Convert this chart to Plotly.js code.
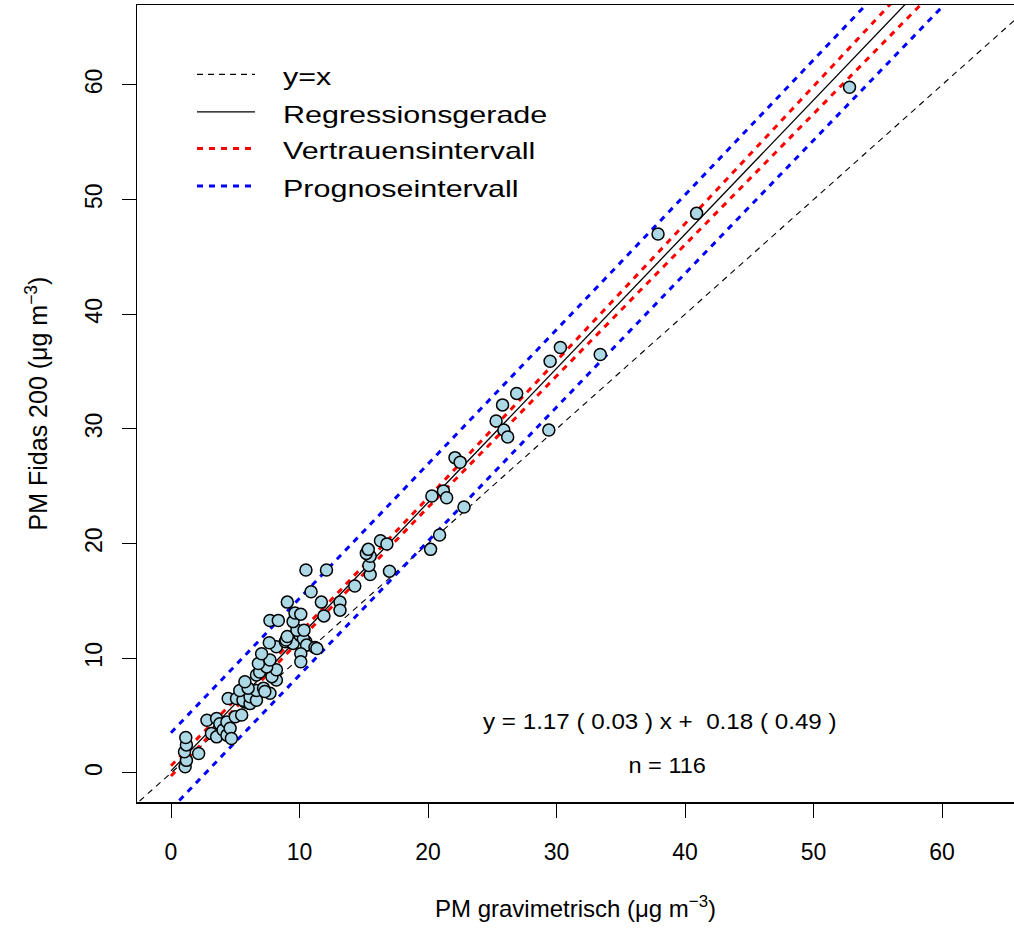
<!DOCTYPE html>
<html>
<head>
<meta charset="utf-8">
<script src="https://cdn.plot.ly/plotly-3.0.1.min.js"></script>
<style>
  html, body { margin: 0; padding: 0; background: #fff; }
  #chart { width: 1014px; height: 928px; }
</style>
</head>
<body>
<div id="chart"></div>
<script>
// ---- data ----
const gravX = [1.1, 1.2, 1.05, 1.2, 1.15, 2.15, 2.8, 3.15, 3.55, 3.55, 3.8, 4.05, 4.35, 4.35, 4.6, 4.7, 5.0, 5.5,
  4.45, 5.5, 5.75, 5.1, 5.6, 6.15, 6.15, 6.65, 5.35, 6.65, 6.0, 7.2, 7.7, 7.3, 5.75, 8.2, 7.85, 6.65, 6.9, 8.2,
  7.45, 6.8, 7.7, 7.05, 8.2, 7.65, 8.9, 9.5, 8.95, 9.05, 10.05, 10.5, 10.3, 10.55, 11.2, 11.35, 10.1, 10.1, 9.8,
  10.35, 9.5, 7.7, 8.35, 9.65, 10.1, 9.05, 11.7, 13.15, 13.15, 10.9, 10.5, 12.1, 14.3, 15.5, 15.4, 15.5, 15.2,
  15.35, 16.3, 16.8, 17.0, 20.2, 20.9, 20.3, 21.2, 21.45, 22.8, 22.1, 22.5, 25.3, 25.9, 26.2, 25.8, 26.9, 29.4,
  29.5, 30.3, 33.4, 37.9, 40.9, 52.8, 11.9];
const fidasY = [0.55, 1.1, 1.85, 2.45, 3.1, 1.7, 4.6, 3.45, 3.15, 4.75, 4.3, 3.75, 4.45, 3.3, 3.9, 3.0, 4.9, 5.05,
  6.5, 6.8, 6.2, 6.5, 6.35, 6.05, 6.65, 6.35, 7.2, 7.2, 7.4, 7.4, 6.95, 7.1, 7.95, 8.1, 8.4, 8.55, 8.8, 9.0,
  9.25, 9.55, 9.85, 10.4, 11.0, 11.35, 11.45, 11.3, 11.6, 11.9, 12.0, 11.45, 11.7, 11.15, 10.95, 10.85, 10.4, 9.7, 12.45,
  12.45, 13.2, 13.3, 13.3, 13.95, 13.85, 14.9, 14.9, 14.9, 14.2, 15.8, 17.7, 17.7, 16.3, 17.3, 18.1, 18.9, 19.15,
  19.5, 20.25, 19.97, 17.6, 19.5, 20.75, 24.15, 24.6, 24.0, 23.2, 27.5, 27.1, 30.7, 29.9, 29.3, 32.1, 33.1, 29.9,
  35.9, 37.1, 36.5, 47.0, 48.8, 59.8, 13.7];

const identX = [-5, 70];
const identY = [-5, 70];

const fitX  = [0, 10, 20, 30, 40, 50, 60];
const regY  = [0.18, 11.88, 23.58, 35.28, 46.98, 58.68, 70.38];
const ciHi  = [0.63, 12.19, 24.0, 35.92, 47.89, 59.88, 71.87];
const ciLo  = [-0.27, 11.57, 23.16, 34.64, 46.07, 57.48, 68.89];
const piHi  = [3.51, 15.2, 26.93, 38.66, 50.41, 62.18, 73.96];
const piLo  = [-3.15, 8.56, 20.23, 31.9, 43.55, 55.18, 66.8];

const tickVals = [0, 10, 20, 30, 40, 50, 60];
const tickText = ["0", "10", "20", "30", "40", "50", "60"];

const legendLabels = ["y=x", "Regressionsgerade", "Vertrauensintervall", "Prognoseintervall"];
const eqText = "y = 1.17 ( 0.03 ) x +\u00a0\u00a00.18 ( 0.49 )";
const nText = "n = 116";

// ---- styles ----
const FONT = "Liberation Sans, Arial, Helvetica, sans-serif";
const styles = {
  ident: {color: "black", width: 1.1, dash: "6px,5px"},
  reg:   {color: "black", width: 1.3},
  ci:    {color: "#ff0000", width: 3, dash: "6px,6px"},
  pi:    {color: "#0000ff", width: 3, dash: "6px,6px"}
};

const traces = [
  {x: identX, y: identY, mode: "lines", line: styles.ident, hoverinfo: "skip", showlegend: false},
  {x: fitX, y: piHi, mode: "lines", line: styles.pi, showlegend: false},
  {x: fitX, y: piLo, mode: "lines", line: styles.pi, showlegend: false},
  {x: fitX, y: ciHi, mode: "lines", line: styles.ci, showlegend: false},
  {x: fitX, y: ciLo, mode: "lines", line: styles.ci, showlegend: false},
  {x: fitX, y: regY, mode: "lines", line: styles.reg, showlegend: false},
  {x: gravX, y: fidasY, mode: "markers", showlegend: false, cliponaxis: true,
   marker: {size: 12, color: "#add8e6", line: {color: "black", width: 1.5}}}
];

// manual legend (paper coordinates)
const legLineX0 = 0.0684, legLineX1 = 0.1345, legTextX = 0.1642;
const legRowsY = [0.913, 0.866, 0.820, 0.773];
const legStyles = [styles.ident, styles.reg, styles.ci, styles.pi];
const shapes = [];
const annotations = [];
const annScale = [];
legendLabels.forEach((lab, i) => {
  const st = legStyles[i];
  shapes.push({type: "line", xref: "paper", yref: "paper",
    x0: legLineX0, x1: legLineX1, y0: legRowsY[i], y1: legRowsY[i],
    line: {color: st.color, width: st.width, dash: st.dash || "solid"}});
  annotations.push({xref: "paper", yref: "paper", x: legTextX, y: legRowsY[i] - 0.003,
    xanchor: "left", yanchor: "middle", showarrow: false, text: lab,
    font: {family: FONT, size: 24, color: "black"}});
  annScale.push({k: 1.27, origin: "left center"});
});
annotations.push({xref: "paper", yref: "paper", x: 0.5963, y: 0.1016, xanchor: "center", yanchor: "middle",
  showarrow: false, text: eqText, font: {family: FONT, size: 22, color: "black"}});
annScale.push({k: 1.1, origin: "center"});
annotations.push({xref: "paper", yref: "paper", x: 0.6043, y: 0.0452, xanchor: "center", yanchor: "middle",
  showarrow: false, text: nText, font: {family: FONT, size: 22, color: "black"}});
annScale.push({k: 1.07, origin: "center"});

const layout = {
  width: 1014, height: 928,
  margin: {l: 137, r: 0, t: 5, b: 126, pad: 0},
  paper_bgcolor: "white", plot_bgcolor: "white",
  font: {family: FONT, size: 22, color: "black"},
  showlegend: false,
  xaxis: {
    range: [-2.646, 65.6], autorange: false,
    tickmode: "array", tickvals: tickVals, ticktext: tickText,
    ticks: "outside", ticklen: 14, tickwidth: 1, tickcolor: "black",
    ticklabelstandoff: 15,
    showline: true, linecolor: "black", linewidth: 1.5, mirror: true,
    showgrid: false, zeroline: false,
    tickfont: {family: FONT, size: 23, color: "black"},
    title: {text: "PM gravimetrisch (μg m<sup>−3</sup>)", font: {family: FONT, size: 24, color: "black"}, standoff: 36}
  },
  yaxis: {
    range: [-2.53, 66.97], autorange: false,
    tickmode: "array", tickvals: tickVals, ticktext: tickText,
    ticks: "outside", ticklen: 14, tickwidth: 1, tickcolor: "black",
    tickangle: -90, ticklabelstandoff: 10,
    showline: true, linecolor: "black", linewidth: 1.5, mirror: false,
    showgrid: false, zeroline: false,
    tickfont: {family: FONT, size: 23, color: "black"},
    title: {text: "PM Fidas 200 (μg m<sup>−3</sup>)", font: {family: FONT, size: 25, color: "black"}, standoff: 26}
  },
  shapes: shapes,
  annotations: annotations
};

Plotly.newPlot("chart", traces, layout, {staticPlot: true, displayModeBar: false}).then(() => {
  const texts = document.querySelectorAll("#chart .annotation-text");
  texts.forEach((t, i) => {
    const s = annScale[i];
    if (!s) return;
    t.style.transformBox = "fill-box";
    t.style.transformOrigin = s.origin;
    t.style.transform = "scaleX(" + s.k + ")";
  });
});
</script>
</body>
</html>
